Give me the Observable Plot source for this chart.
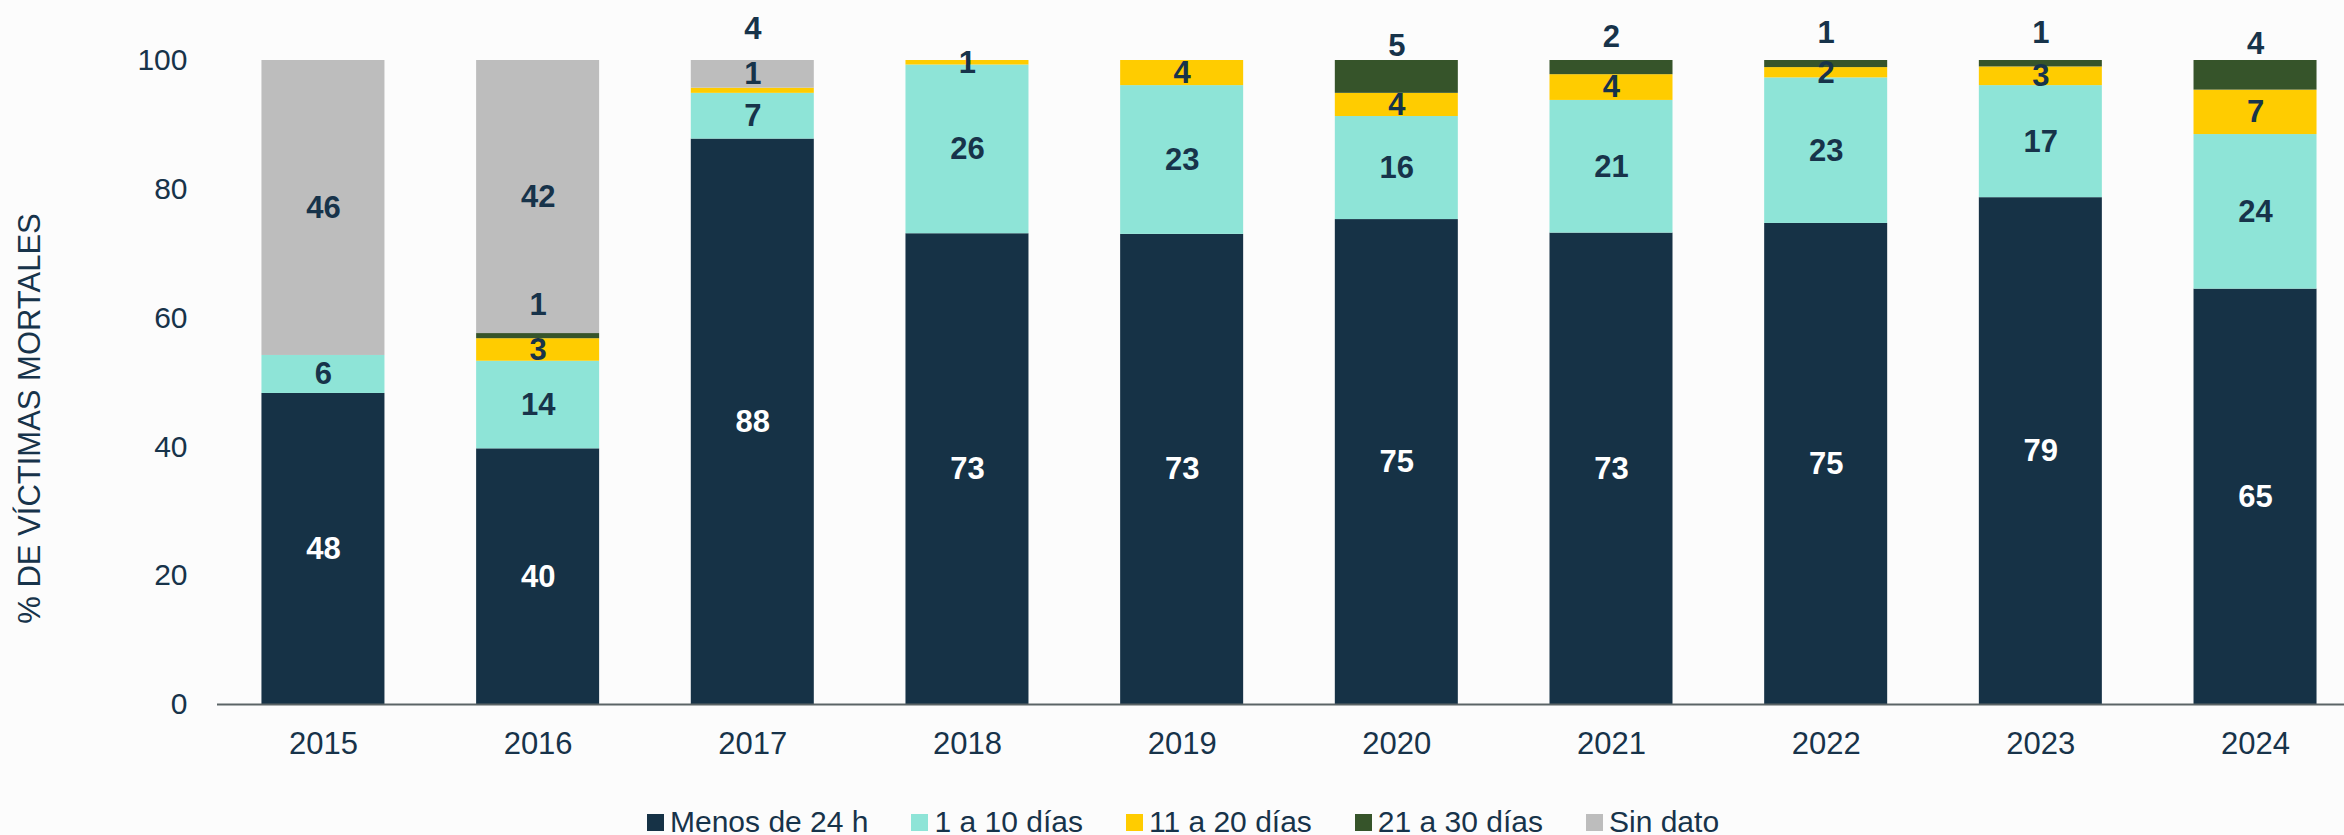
<!DOCTYPE html>
<html>
<head>
<meta charset="utf-8">
<script src="https://cdn.jsdelivr.net/npm/d3@7"></script>
<script src="https://cdn.jsdelivr.net/npm/@observablehq/plot@0.6"></script>
<style>
  body { margin: 0; background: #fcfcfc; font-family: "Liberation Sans", Arial, sans-serif; }
  #legend { display: flex; padding-left: 647px; padding-top: 17px; line-height: 30px; font-size: 30px; color: #17334a; }
  .item { display: flex; align-items: center; margin-right: 43px; }
  .sw { width: 17px; height: 17px; margin-right: 6px; }
</style>
</head>
<body>
<div id="chart"></div>
<div id="legend"></div>
<script>
// ---- data ----
const years = ["2015", "2016", "2017", "2018", "2019", "2020", "2021", "2022", "2023", "2024"];
const series = ["Menos de 24 h", "1 a 10 días", "11 a 20 días", "21 a 30 días", "Sin dato"];
const colors = ["#163246", "#8ee4d7", "#ffcc00", "#36542a", "#bdbdbd"];
const yTicks = [0, 20, 40, 60, 80, 100];

// values (% of fatal victims)
const menos24h = [48.3, 39.7, 87.8, 73.1, 73.0, 75.3, 73.2, 74.7, 78.7, 64.5];
const de1a10   = [5.9, 13.6, 7.1, 26.2, 23.1, 16.0, 20.6, 22.6, 17.4, 24.0];
const de11a20  = [0, 3.5, 0.8, 0.7, 3.9, 3.6, 4.0, 1.6, 2.9, 6.9];
const de21a30  = [0, 0.8, 0, 0, 0, 5.1, 2.2, 1.1, 1.0, 4.6];
const sinDato  = [45.8, 42.4, 4.3, 0, 0, 0, 0, 0, 0, 0];

// data labels as printed on the chart
const lblMenos24h = ["48", "40", "88", "73", "73", "75", "73", "75", "79", "65"];
const lbl1a10     = ["6", "14", "7", "26", "23", "16", "21", "23", "17", "24"];
const lbl11a20    = ["", "3", "", "1", "4", "4", "4", "2", "3", "7"];
const lblSinDato  = ["46", "42", "1", "", "", "", "", "", "", ""];
const lblSuperior = ["", "1", "4", "", "", "5", "2", "1", "1", "4"]; // labels set above the 21-30 días segment

// ---- table ----
const valueArrays = [menos24h, de1a10, de11a20, de21a30, sinDato];
const labelArrays = [lblMenos24h, lbl1a10, lbl11a20, years.map(() => ""), lblSinDato];
const rows = [];
years.forEach((yr, i) => {
  series.forEach((s, k) => {
    rows.push({year: yr, series: s, value: valueArrays[k][i], label: labelArrays[k][i]});
  });
});
// top labels sit above the middle of the 21-30 días segment (or the top of the bar when it is empty)
const topRows = years.map((yr, i) => {
  const below = menos24h[i] + de1a10[i] + de11a20[i];
  const total = below + de21a30[i] + sinDato[i];
  return {year: yr, label: lblSuperior[i], pos: de21a30[i] > 0 ? below + de21a30[i] / 2 : total};
});

const ink = "#17334a";
const font = "Liberation Sans, Arial, sans-serif";

const chart = Plot.plot({
  width: 2344,
  height: 790,
  marginLeft: 217,
  marginRight: 0,
  marginTop: 60,
  marginBottom: 86,
  style: {background: "transparent", fontFamily: font, color: ink},
  x: {domain: years, paddingInner: 0.427, paddingOuter: 0.1675, align: 0.618, round: false, label: null},
  y: {domain: [0, 100], label: null},
  color: {domain: series, range: colors},
  marks: [
    Plot.barY(rows, Plot.stackY({order: series}, {x: "year", y: "value", z: "series", fill: "series"})),
    Plot.text(rows, Plot.stackY({order: series}, {
      x: "year", y: "value", z: "series",
      text: d => d.series === series[0] ? d.label : "",
      fill: "white", fontWeight: "bold", fontSize: 31
    })),
    Plot.text(rows, Plot.stackY({order: series}, {
      x: "year", y: "value", z: "series",
      text: d => d.series === series[0] ? "" : d.label,
      fill: ink, fontWeight: "bold", fontSize: 31
    })),
    Plot.text(topRows, {x: "year", y: "pos", text: "label", dy: -31, fill: ink, fontWeight: "bold", fontSize: 31}),
    Plot.ruleY([0], {stroke: "#5b6466", strokeWidth: 2}),
    Plot.axisY({ticks: yTicks, tickSize: 0, tickPadding: 30, fontSize: 30, label: null}),
    Plot.axisX({tickSize: 0, tickPadding: 27, fontSize: 31, label: null}),
    Plot.text(["% DE VÍCTIMAS MORTALES"], {
      frameAnchor: "left", textAnchor: "middle", lineAnchor: "middle",
      rotate: -90, dx: -187, dy: 36, fontSize: 31, fill: ink
    })
  ]
});
document.getElementById("chart").appendChild(chart);

// ---- legend ----
const legend = document.getElementById("legend");
series.forEach((s, k) => {
  const item = document.createElement("div");
  item.className = "item";
  const sw = document.createElement("span");
  sw.className = "sw";
  sw.style.background = colors[k];
  const tx = document.createElement("span");
  tx.textContent = s;
  item.appendChild(sw);
  item.appendChild(tx);
  legend.appendChild(item);
});
</script>
</body>
</html>
